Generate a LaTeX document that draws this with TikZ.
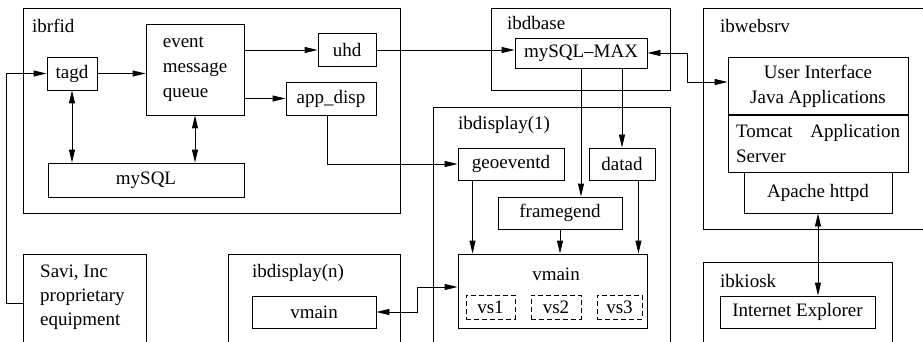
\documentclass[tikz,border=0pt]{standalone}
\usepackage{fontspec}
\setmainfont{Liberation Serif}
\usetikzlibrary{arrows.meta,positioning}

\begin{document}
\begin{tikzpicture}[
  x=1pt,y=-1pt,
  >={Triangle[length=13pt,width=6pt]},
  every node/.style={font=\fontsize{19}{25}\selectfont},
  box/.style={draw=black,line width=0.9pt,inner sep=0pt},
  group/.style={draw=black,line width=0.9pt,inner sep=0pt},
  vbox/.style={draw=black,line width=0.9pt,dash pattern=on 5pt off 3pt,inner sep=0pt},
  title/.style={anchor=base west,inner sep=0pt},
  link/.style={draw=black,line width=0.9pt}
]

\useasboundingbox (0,0) rectangle (923,342);
\clip (0,0) rectangle (923,342);

% hosts
\node[group,minimum width=377,minimum height=205] (rfid)   at (211.5,110.5) {};
\node[group,minimum width=179,minimum height=82]  (dbase)  at (580.5,49)    {};
\node[group,minimum width=237,minimum height=221] (websrv) at (821.5,118.5) {};
\node[group,minimum width=237,minimum height=253] (disp1)  at (551.5,233.5) {};
\node[group,minimum width=172,minimum height=106] (dispn)  at (314,307)     {};
\node[group,minimum width=189,minimum height=98]  (kiosk)  at (797.5,311)   {};
\node[group,minimum width=123,minimum height=98]  (savi)   at (84.5,303)    {};

\node[title] (trfid)   at (32,33)   {ibrfid};
\node[title] (tdbase)  at (507,30)  {ibdbase};
\node[title] (twebsrv) at (720,33)  {ibwebsrv};
\node[title] (tdisp1)  at (458,130) {ibdisplay(1)};
\node[title] (tdispn)  at (252,277) {ibdisplay(n)};
\node[title] (tkiosk)  at (720,287) {ibkiosk};
\node[anchor=north west,align=left,inner sep=0pt,font=\fontsize{19}{24}\selectfont]
  (savitxt) at (40,265) {Savi, Inc\\proprietary\\equipment};

% ibrfid
\node[box,minimum width=50,minimum height=33] (tagd) at (72,73.5) {tagd};
\node[box,minimum width=98,minimum height=91,align=left] (emq) at (195,69.5) {event\\message\\queue};
\node[box,minimum width=58,minimum height=33] (uhd) at (347,50) {uhd};
\node[box,minimum width=90,minimum height=33] (app) at (331,98.5) {app\_disp};
\node[box,minimum width=196,minimum height=34] (mysql) at (146,180) {mySQL};

% ibdbase
\node[box,minimum width=132,minimum height=30] (max) at (581,53) {mySQL--MAX};

% ibwebsrv
\node[box,minimum width=180,minimum height=58,align=center] (ui) at (818,86) {User Interface\\Java Applications};
\node[box,minimum width=180,minimum height=57,text width=164,inner xsep=8pt,align=left]
  (tomcat) at (818,143.5) {Tomcat\hfill Application\\Server};
\node[box,minimum width=148,minimum height=41] (apache) at (818,192.5) {Apache httpd};
\draw[line width=2pt] (ui.south west) -- (ui.south east);

% ibdisplay(1)
\node[box,minimum width=106,minimum height=32] (geo) at (511,164) {geoeventd};
\node[box,minimum width=66,minimum height=32] (datad) at (622,164) {datad};
\node[box,minimum width=124,minimum height=32] (frame) at (560,213) {framegend};
\node[box,minimum width=189,minimum height=74] (vmain) at (552.5,291) {};
\node[anchor=base] (vmainlbl) at (556,280) {vmain};
\node[vbox,minimum width=49,minimum height=24] (vs1) at (490.5,307) {vs1};
\node[vbox,minimum width=50,minimum height=24] (vs2) at (556,307) {vs2};
\node[vbox,minimum width=45,minimum height=24] (vs3) at (619.5,307) {vs3};

% ibdisplay(n), ibkiosk
\node[box,minimum width=124,minimum height=32] (vmainn) at (314,312) {vmain};
\node[box,minimum width=155,minimum height=32] (ie) at (797.5,312) {Internet Explorer};

% connections
\draw[link,->] (savi.west) -- ++(-16,0) |- (tagd.west);
\draw[link,->] (tagd.east) -- (tagd.east -| emq.west);
\draw[link,->] (emq.east |- uhd) -- (uhd.west);
\draw[link,->] (emq.east |- app) -- (app.west);
\draw[link,<->] (tagd.south) -- (tagd.south |- mysql.north);
\draw[link,<->] (emq.south) -- (emq.south |- mysql.north);
\draw[link,->] (uhd.east) -- (uhd.east -| max.west);
\draw[link,->] ([xshift=-4pt]app.south) |- (geo.west);
\draw[link,->] (max.south) -- (max.south |- frame.north);
\draw[link,->] (datad.north |- max.south) -- (datad.north);
\draw[link,<->] (max.east) -- ++(40,0) |- ([yshift=4pt]ui.west);
\coordinate (geoout) at ([xshift=15pt]geo.south west);
\draw[link,->] (geoout) -- (geoout |- vmain.north);
\draw[link,->] (frame.south) -- (frame.south |- vmain.north);
\coordinate (datout) at ([xshift=-17pt]datad.south east);
\draw[link,->] (datout) -- (datout |- vmain.north);
\draw[link,<->] (vmainn.east) -- ++(41,0) |- ([yshift=4pt]vmain.west);
\draw[link,<->] (apache.south) -- (apache.south |- ie.north);

\end{tikzpicture}
\end{document}
